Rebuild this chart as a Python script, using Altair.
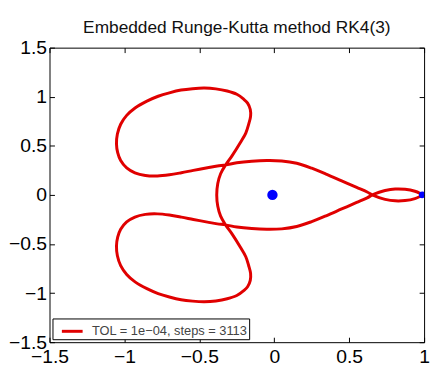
import altair as alt
import pandas as pd

TITLE = "Embedded Runge-Kutta method RK4(3)"
LEGEND_LABEL = "TOL = 1e\u221204, steps = 3113"
TICKS_X = [-1.5, -1.0, -0.5, 0.0, 0.5, 1.0]
TICKS_Y = [-1.5, -1.0, -0.5, 0.0, 0.5, 1.0, 1.5]

# Orbit, in path order, segment by segment
# 1) upper side of the small loop near the Moon, tip -> right crossing
loop_top_x = [0.990, 0.972, 0.939, 0.873, 0.807, 0.740, 0.700, 0.655]
loop_top_y = [0.000, 0.016, 0.037, 0.057, 0.060, 0.045, 0.027, 0.000]

# 2) lower big arc, leftwards to the lower crossing
low_arc_x = [0.620, 0.550, 0.450, 0.350, 0.250, 0.150, 0.050, -0.050, -0.150, -0.250, -0.325]
low_arc_y = [-0.030, -0.077, -0.143, -0.210, -0.272, -0.322, -0.346, -0.350, -0.343, -0.327, -0.305]

# 3) lower-left lobe: top edge, left side, bottom, right side back to the crossing
low_lobe_x = [-0.380, -0.446, -0.540, -0.620, -0.700, -0.780, -0.860, -0.930, -0.985, -1.025,
              -1.045, -1.053, -1.047, -1.025, -0.985, -0.929, -0.850, -0.775, -0.700, -0.622,
              -0.545, -0.467, -0.390, -0.314, -0.250, -0.204, -0.178, -0.160, -0.158, -0.171,
              -0.190, -0.226, -0.281, -0.325]
low_lobe_y = [-0.295, -0.277, -0.250, -0.226, -0.205, -0.193, -0.198, -0.225, -0.275, -0.350,
              -0.430, -0.520, -0.620, -0.720, -0.810, -0.886, -0.955, -1.005, -1.040, -1.068,
              -1.082, -1.088, -1.080, -1.058, -1.025, -0.975, -0.935, -0.870, -0.800, -0.719,
              -0.630, -0.534, -0.400, -0.305]

# 4) inner arc left of the Earth, lower crossing -> upper crossing
inner_x = [-0.358, -0.377, -0.384, -0.377, -0.358, -0.325]
inner_y = [-0.216, -0.116, 0.000, 0.116, 0.216, 0.305]

# 5) upper-left lobe: right side, top, left side, bottom edge back to the crossing
up_lobe_x = [-0.281, -0.226, -0.190, -0.171, -0.158, -0.160, -0.178, -0.204, -0.250, -0.314,
             -0.390, -0.467, -0.545, -0.622, -0.700, -0.775, -0.850, -0.929, -0.985, -1.025,
             -1.047, -1.053, -1.045, -1.025, -0.985, -0.930, -0.860, -0.780, -0.700, -0.620,
             -0.540, -0.446, -0.380, -0.325]
up_lobe_y = [0.400, 0.534, 0.630, 0.719, 0.800, 0.870, 0.935, 0.975, 1.025, 1.058,
             1.080, 1.088, 1.082, 1.068, 1.040, 1.005, 0.955, 0.886, 0.810, 0.720,
             0.620, 0.520, 0.430, 0.350, 0.275, 0.225, 0.198, 0.193, 0.205, 0.226,
             0.250, 0.277, 0.295, 0.305]

# 6) upper big arc, rightwards to the right crossing
up_arc_x = [-0.250, -0.150, -0.050, 0.050, 0.150, 0.250, 0.350, 0.450, 0.550, 0.620, 0.655]
up_arc_y = [0.327, 0.343, 0.350, 0.346, 0.322, 0.272, 0.210, 0.143, 0.077, 0.030, 0.000]

# 7) lower side of the small loop, back to the tip
loop_bot_x = [0.700, 0.740, 0.807, 0.873, 0.939, 0.972, 0.990]
loop_bot_y = [-0.027, -0.045, -0.060, -0.057, -0.037, -0.016, 0.000]

earth_x, earth_y = [-0.012277], [0.0]
moon_x, moon_y = [0.987723], [0.0]

xs = loop_top_x + low_arc_x + low_lobe_x + inner_x + up_lobe_x + up_arc_x + loop_bot_x
ys = loop_top_y + low_arc_y + low_lobe_y + inner_y + up_lobe_y + up_arc_y + loop_bot_y
orbit = pd.DataFrame({"x": xs, "y": ys, "order": list(range(len(xs))),
                      "series": [LEGEND_LABEL] * len(xs)})
earth = pd.DataFrame({"x": earth_x, "y": earth_y})
moon = pd.DataFrame({"x": moon_x, "y": moon_y})

xscale = alt.Scale(domain=[-1.5, 1.0], nice=False, zero=False)
yscale = alt.Scale(domain=[-1.5, 1.5], nice=False, zero=False)

TICK_FONT = "Liberation Sans"
common = dict(domain=False, grid=False, tickSize=5, tickColor="black", tickWidth=1,
              offset=-5, title=None)
label_style = dict(labelFont=TICK_FONT, labelFontSize=19.5, labelColor="black",
                   labelOverlap=False, labelFlush=False, labelBound=False, format=".1~f")

bottom_axis = alt.Axis(orient="bottom", values=TICKS_X, labelPadding=21,
                       labelBaseline="alphabetic", **common, **label_style)
left_axis = alt.Axis(orient="left", values=TICKS_Y, labelPadding=3, **common, **label_style)
top_axis = alt.Axis(orient="top", values=TICKS_X, labels=False, **common)
right_axis = alt.Axis(orient="right", values=TICKS_Y, labels=False, **common)

line = alt.Chart(orbit).mark_line(strokeWidth=3, interpolate="catmull-rom").encode(
    x=alt.X("x:Q", scale=xscale, axis=bottom_axis),
    y=alt.Y("y:Q", scale=yscale, axis=left_axis),
    order="order:Q",
    color=alt.Color("series:N", scale=alt.Scale(range=["#e00000"]),
                    legend=alt.Legend(orient="bottom-left", offset=3, title=None,
                                      strokeColor="black", fillColor="white", padding=1,
                                      cornerRadius=0, symbolType="stroke", symbolSize=441,
                                      symbolStrokeWidth=3, symbolOffset=7, labelOffset=8,
                                      labelFont="Liberation Sans", labelFontSize=13,
                                      labelColor="#444", labelLimit=400,
                                      labelExpr="datum.label + '\u2007'")),
)

earth_pt = alt.Chart(earth).mark_circle(size=110, color="#0000ff", opacity=1).encode(
    x=alt.X("x:Q", scale=xscale, axis=top_axis),
    y=alt.Y("y:Q", scale=yscale, axis=right_axis),
)

moon_pt = alt.Chart(moon).mark_circle(size=45, color="#0000ff", opacity=1, clip=True).encode(
    x=alt.X("x:Q", scale=xscale, axis=None),
    y=alt.Y("y:Q", scale=yscale, axis=None),
)

chart = alt.layer(line, earth_pt, moon_pt).resolve_axis(
    x="independent", y="independent"
).properties(
    width=379, height=298,
    title=alt.TitleParams(TITLE, font="Liberation Sans", fontSize=17.5, fontWeight="normal",
                          color="#111", offset=14, baseline="alphabetic", dy=27),
    autosize=alt.AutoSizeParams(type="none"),
    padding={"left": 42, "top": 38, "right": 8, "bottom": 24},
).configure_view(stroke="black", strokeWidth=1)

chart.save("out.html", embed_options={"renderer": "svg", "actions": False})
